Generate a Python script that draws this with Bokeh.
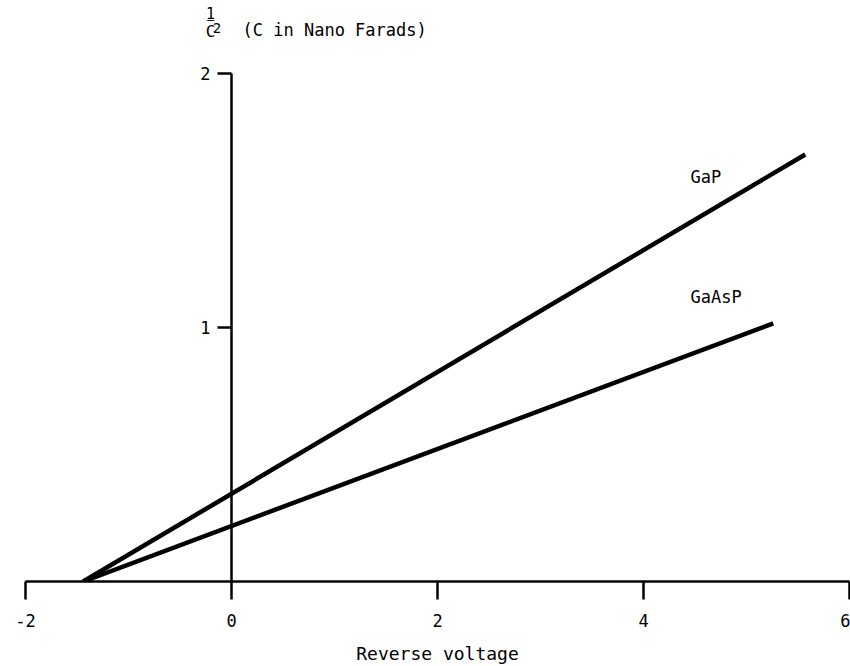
from bokeh.plotting import figure
from bokeh.models import LinearAxis, FixedTicker
from bokeh.core.properties import value
from bokeh.embed import file_html
from bokeh.resources import INLINE

# ---- data ----
series_names = ["GaP", "GaAsP"]
gap_x = [-1.44, 5.57]
gap_y = [0.0, 1.681]
gaasp_x = [-1.44, 5.26]
gaasp_y = [0.0, 1.016]
x_ticks = [-2, 0, 2, 4, 6]
y_ticks = [1, 2]
x_label = "Reverse voltage"
y_title = "(C in Nano Farads)"

FONT = "DejaVu Sans Mono"

p = figure(frame_width=824, frame_height=581, x_range=(-2, 6), y_range=(0, 2.287),
           output_backend="svg", toolbar_location=None,
           x_axis_location=None, y_axis_location=None,
           min_border_left=25, min_border_right=1, min_border_top=0, min_border_bottom=84)
p.grid.visible = False
p.outline_line_color = None
p.background_fill_color = "white"
p.border_fill_color = "white"

# x axis
xa = LinearAxis(ticker=FixedTicker(ticks=x_ticks))
xa.major_label_overrides = {-2: "-2"}
xa.axis_label = x_label
xa.axis_line_width = 2.5
xa.axis_line_color = "black"
xa.major_tick_line_width = 2.5
xa.major_tick_line_color = "black"
xa.major_tick_out = 18
xa.major_tick_in = 0
xa.minor_tick_line_color = None
xa.major_label_standoff = 14
xa.major_label_text_font = FONT
xa.major_label_text_font_size = "17px"
xa.major_label_text_color = "black"
xa.axis_label_text_font = FONT
xa.axis_label_text_font_size = "18px"
xa.axis_label_text_font_style = "normal"
xa.axis_label_text_color = "black"
xa.axis_label_standoff = 13
p.add_layout(xa, "below")

# y axis placed at x = 0, drawn only from 0 to 2
ya = LinearAxis(ticker=FixedTicker(ticks=y_ticks), fixed_location=0, bounds=(0, 2))
ya.axis_line_width = 2.5
ya.axis_line_color = "black"
ya.major_tick_line_width = 2.5
ya.major_tick_line_color = "black"
ya.major_tick_out = 14
ya.major_tick_in = 0
ya.minor_tick_line_color = None
ya.major_label_standoff = 7
ya.major_label_text_font = FONT
ya.major_label_text_font_size = "17px"
ya.major_label_text_color = "black"
p.add_layout(ya, "left")

# lines
p.line(gap_x, gap_y, line_color="black", line_width=4.5)
p.line(gaasp_x, gaasp_y, line_color="black", line_width=4.5)

# series labels
p.text(x=[4.456, 4.456], y=[1.594, 1.118], text=series_names,
       text_font=value(FONT), text_font_size="17px", text_color="black",
       text_align="left", text_baseline="middle")

# y title: 1 / C^2 (C in Nano Farads)
p.text(x=[-0.204], y=[2.236], text=["1"], text_font=value(FONT), text_font_size="15px",
       text_color="black", text_align="center", text_baseline="middle")
p.text(x=[-0.204], y=[2.209], text=["\u2013"], text_font=value(FONT), text_font_size="12px",
       text_color="black", text_align="center", text_baseline="middle")
p.text(x=[-0.204], y=[2.165], text=["C"], text_font=value(FONT), text_font_size="16px",
       text_color="black", text_align="center", text_baseline="middle")
p.text(x=[-0.141], y=[2.179], text=["2"], text_font=value(FONT), text_font_size="14px",
       text_color="black", text_align="center", text_baseline="middle")
p.text(x=[0.107], y=[2.169], text=[y_title], text_font=value(FONT), text_font_size="17px",
       text_color="black", text_align="left", text_baseline="middle")

open("out.html", "w").write(file_html(p, INLINE))
